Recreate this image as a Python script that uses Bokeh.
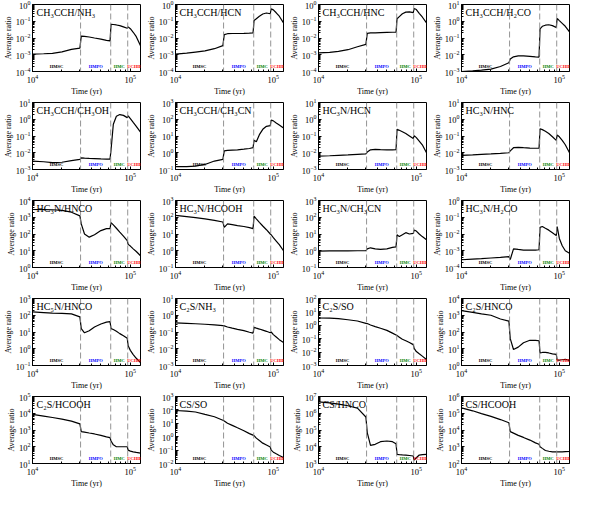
from bokeh.plotting import figure
from bokeh.layouts import gridplot
from bokeh.models import Span, FixedTicker, Label
from bokeh.embed import file_html
from bokeh.resources import INLINE

# ---------------- data ----------------
time_yr = [1.0e4, 1.3e4, 1.6e4, 2.0e4, 2.5e4, 3.05e4, 3.15e4, 3.4e4, 3.8e4, 4.3e4, 5.0e4, 5.7e4,
           6.2e4, 6.35e4, 6.7e4, 7.2e4, 7.8e4, 8.5e4, 9.3e4, 9.5e4, 1.0e5, 1.07e5, 1.15e5, 1.27e5]

stage_edges = [1.0e4, 3.1e4, 6.3e4, 9.4e4, 1.27e5]
stage_names = ["HMSC", "HMPO", "HMC", "UCHII"]

titles = ["CH₃CCH/NH₃", "CH₃CCH/HCN", "CH₃CCH/HNC", "CH₃CCH/H₂CO",
          "CH₃CCH/CH₃OH", "CH₃CCH/CH₃CN", "HC₃N/HCN", "HC₃N/HNC",
          "HC₃N/HNCO", "HC₃N/HCOOH", "HC₃N/CH₃CN", "HC₃N/H₂CO",
          "HC₅N/HNCO", "C₂S/NH₃", "C₂S/SO", "C₂S/HNCO",
          "C₂S/HCOOH", "CS/SO", "CS/HNCO", "CS/HCOOH"]

# y-axis decade limits (exponents) per panel
y_decades = [(-4, 0), (-4, 0), (-4, 0), (-3, 1),
             (-3, 1), (-1, 3), (-3, 1), (-3, 1),
             (0, 4), (-1, 3), (-1, 3), (-4, 0),
             (-1, 3), (-3, 1), (-3, 2), (0, 4),
             (1, 5), (-2, 3), (3, 7), (2, 6)]

ratio_ch3cch_nh3 = [1.1e-3, 1.15e-3, 1.2e-3, 1.5e-3, 2.1e-3, 2.5e-3, 1.3e-2, 1.25e-2, 1.15e-2, 1.0e-2, 8.5e-3, 7.3e-3,
                    6.7e-3, 6.5e-2, 6.4e-2, 6.0e-2, 5.5e-2, 4.6e-2, 3.8e-2, 4.6e-2, 3.6e-2, 2.2e-2, 1.2e-2, 3.5e-3]
ratio_ch3cch_hcn = [1.1e-3, 1.25e-3, 1.45e-3, 1.7e-3, 2.3e-3, 3.5e-3, 1.6e-2, 1.8e-2, 1.85e-2, 1.85e-2, 1.9e-2, 1.95e-2,
                    2.0e-2, 1.1e-1, 1.4e-1, 2.0e-1, 2.7e-1, 3.1e-1, 2.8e-1, 5.5e-1, 4.8e-1, 3.2e-1, 2.0e-1, 8e-2]
ratio_ch3cch_hnc = [1.3e-3, 1.4e-3, 1.6e-3, 2.0e-3, 3.0e-3, 4.2e-3, 1.9e-2, 2.0e-2, 2.05e-2, 2.1e-2, 2.15e-2, 2.2e-2,
                    2.2e-2, 1.4e-1, 1.9e-1, 2.8e-1, 3.5e-1, 3.6e-1, 3.3e-1, 5.8e-1, 5.0e-1, 3.0e-1, 1.8e-1, 8e-2]
ratio_ch3cch_h2co = [1.0e-3, 1.1e-3, 1.2e-3, 1.4e-3, 2.0e-3, 3.3e-3, 5.5e-3, 7.5e-3, 8.5e-3, 8.5e-3, 8.0e-3, 7.5e-3,
                     7.3e-3, 3.5e-1, 5.0e-1, 5.8e-1, 6.2e-1, 5.5e-1, 4.2e-1, 1.5e0, 1.1e0, 7.5e-1, 5e-1, 2.3e-1]
ratio_ch3cch_ch3oh = [3.2e-3, 2.9e-3, 2.6e-3, 2.7e-3, 3.4e-3, 4.0e-3, 5.0e-3, 4.8e-3, 4.6e-3, 4.5e-3, 4.3e-3, 4.2e-3,
                      4.2e-3, 1.5e-2, 5e-1, 1.5e0, 1.9e0, 1.7e0, 1.25e0, 1.6e0, 1.1e0, 6.5e-1, 3.8e-1, 1.7e-1]
ratio_ch3cch_ch3cn = [1.5e-1, 1.5e-1, 1.6e-1, 2.0e-1, 3.2e-1, 4.0e-1, 1.3e0, 1.4e0, 1.45e0, 1.5e0, 1.65e0, 1.8e0,
                      2.0e0, 5.5e0, 4.5e0, 1.2e1, 2.5e1, 3.8e1, 4.2e1, 9.0e1, 8.0e1, 6.0e1, 4.5e1, 3.0e1]
ratio_hc3n_hcn = [6.3e-3, 6.6e-3, 7.0e-3, 7.4e-3, 8.0e-3, 8.5e-3, 1.1e-2, 1.5e-2, 1.6e-2, 1.55e-2, 1.5e-2, 1.5e-2,
                  1.55e-2, 2.5e-1, 2.2e-1, 1.8e-1, 1.4e-1, 1.0e-1, 7e-2, 1.05e-1, 8e-2, 5e-2, 3e-2, 1e-2]
ratio_hc3n_hnc = [7e-3, 7.5e-3, 8e-3, 8.5e-3, 9.2e-3, 1.0e-2, 1.3e-2, 2.0e-2, 2.1e-2, 2.0e-2, 1.9e-2, 1.85e-2,
                  1.85e-2, 2.7e-1, 2.4e-1, 1.9e-1, 1.4e-1, 9e-2, 5.5e-2, 1.15e-1, 9e-2, 5.5e-2, 3e-2, 1.0e-2]
ratio_hc3n_hnco = [2.9e3, 2.85e3, 2.8e3, 2.6e3, 2.0e3, 1.2e3, 4e2, 1.0e2, 6.5e1, 9e1, 1.6e2, 2.1e2,
                   2.1e2, 4.8e2, 3.5e2, 2.2e2, 1.3e2, 7.5e1, 4e1, 2.4e1, 1.9e1, 1.3e1, 9e0, 5e0]
ratio_hc3n_hcooh = [130, 110, 95, 80, 65, 52, 25, 40, 36, 32, 28, 24,
                    21, 115, 80, 50, 30, 18, 10, 9, 6, 3.8, 2.3, 1.0]
ratio_hc3n_ch3cn = [0.95, 0.97, 0.98, 0.99, 1.0, 1.0, 1.3, 1.5, 1.3, 1.2, 1.3, 1.6,
                    1.7, 9, 7, 9, 12, 10, 11, 17, 15, 10, 7, 4.5]
ratio_hc3n_h2co = [2.9e-4, 3.2e-4, 3.4e-4, 3.7e-4, 4.0e-4, 4.4e-4, 3.0e-4, 1.3e-3, 1.2e-3, 1.1e-3, 1.1e-3, 1.1e-3,
                   1.15e-3, 2.5e-2, 2.8e-2, 2.2e-2, 1.7e-2, 1.2e-2, 8e-3, 2.8e-2, 5.4e-3, 2.0e-3, 1.0e-3, 7e-4]
ratio_hc5n_hnco = [1.6e2, 1.45e2, 1.35e2, 1.3e2, 1.2e2, 8e1, 1.6e1, 9e0, 1.2e1, 2.0e1, 3.0e1, 3.9e1,
                   4.2e1, 1.6e1, 1.4e1, 1.1e1, 8e0, 6e0, 4.2e0, 1.5e0, 8e-1, 4.5e-1, 2.7e-1, 1.5e-1]
ratio_c2s_nh3 = [0.35, 0.33, 0.31, 0.29, 0.265, 0.24, 0.23, 0.2, 0.17, 0.145, 0.12, 0.097,
                 0.085, 0.19, 0.17, 0.15, 0.13, 0.11, 0.09, 0.1, 0.07, 0.05, 0.035, 0.024]
ratio_c2s_so = [3.5, 3.4, 3.1, 2.6, 2.1, 1.4, 1.35, 1.05, 0.8, 0.6, 0.42, 0.26,
                0.19, 0.17, 0.13, 0.09, 0.07, 0.052, 0.036, 0.019, 0.011, 0.0075, 0.005, 0.0028]
ratio_c2s_hnco = [1.9e3, 1.5e3, 1.2e3, 1.0e3, 6e2, 4.5e2, 4e1, 9, 12.5, 23, 32, 32,
                  30, 5.6, 6, 6, 5.6, 5, 4.6, 2.1, 2.1, 2.2, 2.3, 2.0]
ratio_c2s_hcooh = [8.5e3, 6.8e3, 5.6e3, 4.5e3, 3.4e3, 2.3e3, 8e2, 7.5e2, 6.6e2, 5.8e2, 4.8e2, 3.9e2,
                   3.5e2, 2.2e2, 1.3e2, 1.0e2, 1.0e2, 1.0e2, 1.0e2, 6.3e1, 5.5e1, 5.0e1, 4.6e1, 4.2e1]
ratio_cs_so = [90, 80, 70, 46, 31, 17, 15, 10, 7, 4.6, 2.8, 1.7,
               1.3, 1.2, 0.78, 0.52, 0.33, 0.24, 0.17, 0.1, 0.07, 0.053, 0.04, 0.028]
ratio_cs_hnco = [4.8e6, 4.2e6, 3.5e6, 2.8e6, 2.0e6, 6e5, 7e4, 1.2e4, 1.4e4, 2.0e4, 2.2e4, 2.0e4,
                 1.5e4, 3.5e3, 3.4e3, 3.3e3, 3.2e3, 3.0e3, 2.8e3, 1.6e3, 2.2e3, 3.2e3, 3.4e3, 3.5e3]
ratio_cs_hcooh = [2.1e5, 1.4e5, 9.5e4, 6.5e4, 4.2e4, 2.7e4, 8e3, 6.5e3, 4.8e3, 3.6e3, 2.5e3, 1.7e3,
                  1.4e3, 1.0e3, 8e2, 6e2, 5.4e2, 5e2, 4.9e2, 4.9e2, 5e2, 5e2, 5.1e2, 5.2e2]

all_ratios = [ratio_ch3cch_nh3, ratio_ch3cch_hcn, ratio_ch3cch_hnc, ratio_ch3cch_h2co,
              ratio_ch3cch_ch3oh, ratio_ch3cch_ch3cn, ratio_hc3n_hcn, ratio_hc3n_hnc,
              ratio_hc3n_hnco, ratio_hc3n_hcooh, ratio_hc3n_ch3cn, ratio_hc3n_h2co,
              ratio_hc5n_hnco, ratio_c2s_nh3, ratio_c2s_so, ratio_c2s_hnco,
              ratio_c2s_hcooh, ratio_cs_so, ratio_cs_hnco, ratio_cs_hcooh]

# ---------------- styling ----------------
FONT = "Liberation Serif"
stage_colors = ["black", "blue", "green", "red"]
X_MIN, X_MAX = stage_edges[0], stage_edges[-1]


def make_panel(title, ratio, dec):
    lo, hi = dec
    p = figure(width=143, height=98, x_axis_type="log", y_axis_type="log",
               x_range=(X_MIN, X_MAX), y_range=(10.0 ** lo, 10.0 ** hi),
               output_backend="svg", toolbar_location=None,
               min_border_left=2, min_border_right=3, min_border_top=4, min_border_bottom=0,
               background_fill_color="white", border_fill_color="white")
    p.xgrid.visible = False
    p.ygrid.visible = False
    p.outline_line_color = "black"
    p.outline_line_width = 1

    p.line(time_yr, ratio, line_color="black", line_width=1.2)

    for e in stage_edges[1:-1]:
        p.add_layout(Span(location=e, dimension="height", line_color="#888888",
                          line_dash="6 3", line_width=0.9))

    for i, name in enumerate(stage_names):
        xc = (stage_edges[i] * stage_edges[i + 1]) ** 0.5
        p.add_layout(Label(x=xc, y=10.0 ** (lo + 0.04 * (hi - lo)), text=name,
                           text_font=FONT, text_font_size="4.5px", text_font_style="bold",
                           text_color=stage_colors[i], text_align="center",
                           text_baseline="bottom"))

    p.add_layout(Label(x=1.1e4, y=10.0 ** (hi - 0.03 * (hi - lo)), text=title,
                       text_font=FONT, text_font_size="10px", text_color="black",
                       text_baseline="top", text_align="left"))

    p.xaxis.ticker = FixedTicker(ticks=[1e4, 1e5],
                                 minor_ticks=[m * 1e4 for m in range(2, 10)])
    p.yaxis.ticker = FixedTicker(ticks=[10.0 ** k for k in range(lo, hi + 1)],
                                 minor_ticks=[m * 10.0 ** k for k in range(lo, hi) for m in range(2, 10)])

    for ax in (p.xaxis[0], p.yaxis[0]):
        ax.major_label_text_font = FONT
        ax.major_label_text_font_size = "8.5px"
        ax.major_label_text_color = "black"
        ax.axis_label_text_font = FONT
        ax.axis_label_text_font_size = "8px"
        ax.axis_label_text_font_style = "normal"
        ax.axis_label_text_color = "black"
        ax.major_tick_in = 3
        ax.major_tick_out = 0
        ax.minor_tick_in = 2
        ax.minor_tick_out = 0
        ax.axis_line_color = "black"
        ax.major_tick_line_color = "black"
        ax.minor_tick_line_color = "black"
    p.xaxis.axis_label = "Time (yr)"
    p.yaxis.axis_label = "Average ratio"
    p.xaxis.major_label_standoff = 3
    p.xaxis.axis_label_standoff = 1
    p.yaxis.major_label_standoff = 2
    p.yaxis.axis_label_standoff = 0
    return p


panels = [make_panel(t, r, d) for t, r, d in zip(titles, all_ratios, y_decades)]
rows = [panels[i:i + 4] for i in range(0, len(panels), 4)]
grid = gridplot(rows, toolbar_location=None)

open("out.html", "w").write(file_html(grid, INLINE))
